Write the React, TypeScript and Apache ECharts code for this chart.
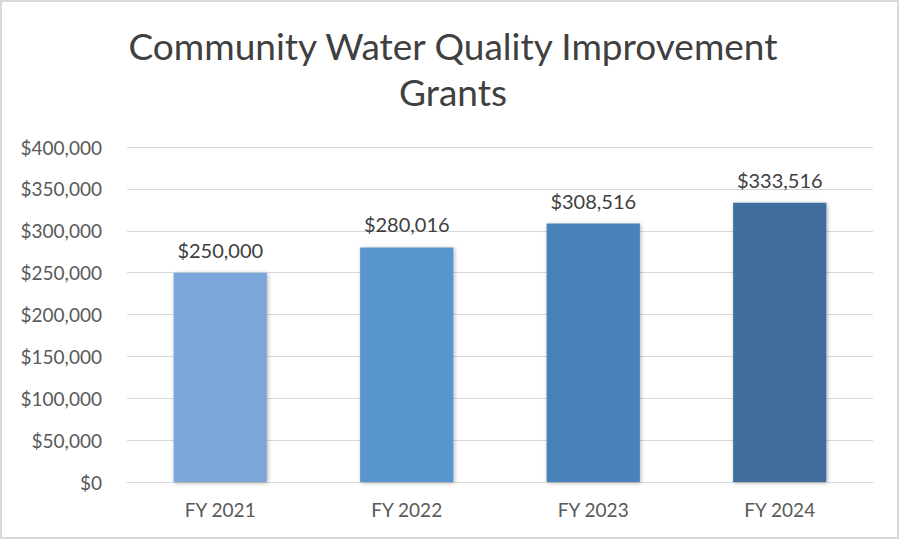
import React, { useEffect, useRef } from "react";
import * as echarts from "echarts";

const categories = ["FY 2021", "FY 2022", "FY 2023", "FY 2024"];
const grantValues = [250000, 280016, 308516, 333516];
const barColors = ["#7BA7DA", "#5894CE", "#4A82B9", "#416E9D"];
const titleLines = ["Community Water Quality Improvement", "Grants"];

const fmt = (v: number) => "$" + Math.round(v).toLocaleString("en-US");

export default function App() {
  const ref = useRef<HTMLDivElement>(null);
  useEffect(() => {
    document.body.style.margin = "0";
    const chart = echarts.init(ref.current!, null, { renderer: "svg" });
    const font = "Lato, 'Open Sans', sans-serif";
    chart.setOption({
      animation: false,
      backgroundColor: "#ffffff",
      textStyle: { fontFamily: font },
      title: {
        text: titleLines.join("\n"),
        left: 448,
        top: 17,
        textAlign: "center",
        textStyle: {
          fontFamily: font,
          fontSize: 37,
          fontWeight: "normal",
          color: "#404040",
          lineHeight: 46,
        },
      },
      graphic: [
        {
          type: "rect",
          shape: { x: 1, y: 1, width: 897, height: 537 },
          style: { fill: "none", stroke: "#d9d9d9", lineWidth: 2 },
          silent: true,
        },
      ],
      grid: { left: 127, right: 27, top: 147, bottom: 58 },
      xAxis: {
        type: "category",
        data: categories,
        axisTick: { show: false },
        axisLine: { lineStyle: { color: "#d9d9d9", width: 1 } },
        axisLabel: { color: "#595959", fontSize: 19, margin: 18, fontFamily: font },
      },
      yAxis: {
        type: "value",
        min: 0,
        max: 400000,
        interval: 50000,
        axisLine: { show: false },
        axisTick: { show: false },
        splitLine: { lineStyle: { color: "#d9d9d9", width: 1 } },
        axisLabel: {
          color: "#595959",
          fontSize: 19,
          margin: 25,
          fontFamily: font,
          formatter: (v: number) => fmt(v),
        },
      },
      series: [
        {
          type: "bar",
          barWidth: "50%",
          data: grantValues.map((v, i) => ({
            value: v,
            itemStyle: {
              color: barColors[i],
              shadowBlur: 4,
              shadowColor: "rgba(0,0,0,0.3)",
              shadowOffsetX: 1,
              shadowOffsetY: 1,
            },
          })),
          label: {
            show: true,
            position: "top",
            distance: 13,
            color: "#404040",
            fontSize: 20,
            fontFamily: font,
            formatter: (p: any) => fmt(p.value),
          },
        },
      ],
    });
    return () => chart.dispose();
  }, []);
  return <div ref={ref} style={{ width: 900, height: 540 }} />;
}
